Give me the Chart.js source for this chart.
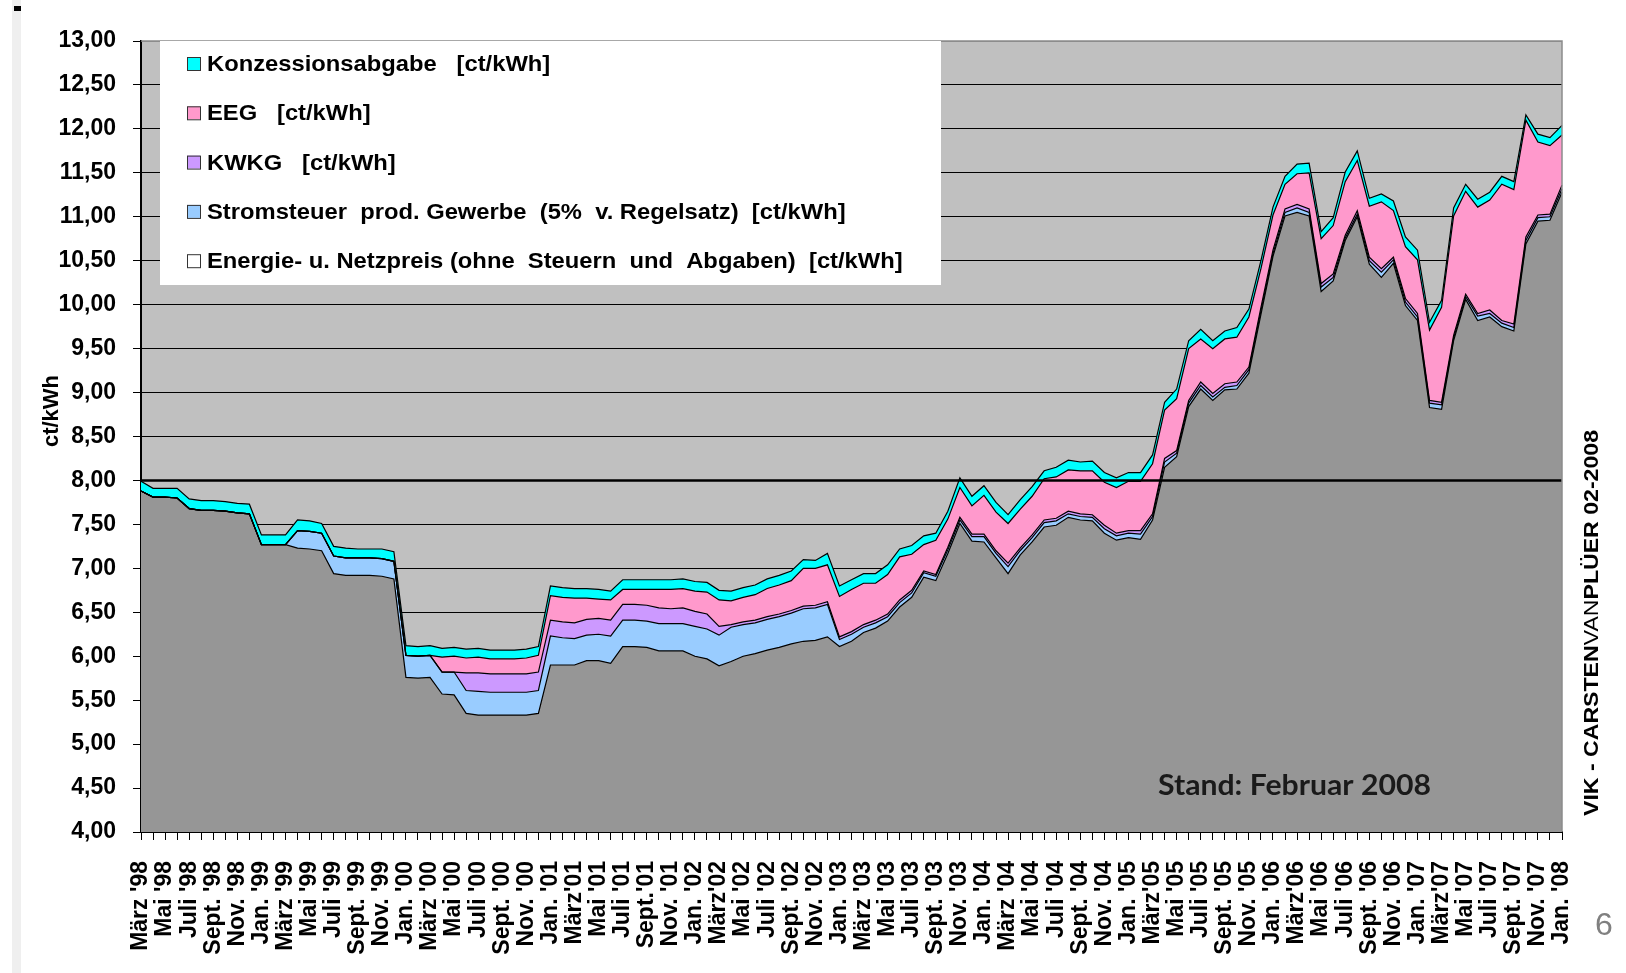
<!DOCTYPE html>
<html>
<head>
<meta charset="utf-8">
<title>Strompreis Industrie 1998-2008</title>
<script src="https://cdn.jsdelivr.net/npm/chart.js@4.4.1/dist/chart.umd.min.js"></script>
<style>
  html, body { margin: 0; padding: 0; background: #fff; }
  #wrap { position: relative; width: 1626px; height: 973px; overflow: hidden; }
  #strip { position: absolute; left: 12px; top: 0; width: 9px; height: 973px; background: #efefef; }
  #dash { position: absolute; left: 14px; top: 6px; width: 7px; height: 5px; background: #000; }
  #chart { position: absolute; left: 0; top: 0; }
</style>
</head>
<body>
<div id="wrap">
  <div id="strip"></div>
  <div id="dash"></div>
  <canvas id="chart" width="1626" height="973"></canvas>
</div>
<script>
// tick labels, one every two months (März '98 ... Jan. '08)
const tickLabels = [
  "März '98", "Mai '98", "Juli '98", "Sept. '98", "Nov. '98",
  "Jan. '99", "März '99", "Mai '99", "Juli '99", "Sept. '99", "Nov. '99",
  "Jan. '00", "März '00", "Mai '00", "Juli '00", "Sept. '00", "Nov. '00",
  "Jan. '01", "März'01", "Mai '01", "Juli '01", "Sept.'01", "Nov. '01",
  "Jan. '02", "März'02", "Mai '02", "Juli '02", "Sept. '02", "Nov. '02",
  "Jan. '03", "März '03", "Mai '03", "Juli '03", "Sept. '03", "Nov. '03",
  "Jan. '04", "März '04", "Mai '04", "Juli '04", "Sept. '04", "Nov. '04",
  "Jan. '05", "März'05", "Mai '05", "Juli '05", "Sept. '05", "Nov. '05",
  "Jan. '06", "März'06", "Mai '06", "Juli '06", "Sept. '06", "Nov. '06",
  "Jan. '07", "März'07", "Mai '07", "Juli '07", "Sept. '07", "Nov. '07",
  "Jan. '08"
];

// monthly values in ct/kWh, März 1998 .. Jan. 2008
const energie = [
  7.88, 7.81, 7.81, 7.80, 7.68, 7.66, 7.66, 7.65, 7.63, 7.62,
  7.27, 7.27, 7.27, 7.23, 7.22, 7.20, 6.94, 6.92, 6.92, 6.92, 6.91, 6.88,
  5.76, 5.75, 5.76, 5.57, 5.56, 5.35, 5.33, 5.33, 5.33, 5.33, 5.33, 5.35,
  5.90, 5.90, 5.90, 5.95, 5.95, 5.92, 6.11, 6.11, 6.10, 6.06, 6.06, 6.06,
  6.00, 5.97, 5.89, 5.94, 6.00, 6.03, 6.07, 6.10, 6.14, 6.17, 6.18, 6.22,
  6.11, 6.17, 6.27, 6.32, 6.40, 6.56, 6.67, 6.90, 6.86, 7.17, 7.51, 7.31,
  7.30, 7.12, 6.94, 7.15, 7.30, 7.47, 7.49, 7.58, 7.55, 7.54, 7.40, 7.32,
  7.35, 7.33, 7.55, 8.15, 8.27, 8.84, 9.04, 8.91, 9.03, 9.04, 9.22, 9.89,
  10.55, 11.01, 11.05, 11.01, 10.15, 10.27, 10.73, 11.00, 10.46, 10.31, 10.47, 9.99,
  9.82, 8.83, 8.81, 9.59, 10.06, 9.82, 9.86, 9.75, 9.70, 10.69, 10.95, 10.96,
  11.28
];
const stromsteuer = [
  0, 0, 0, 0, 0, 0, 0, 0, 0, 0,
  0, 0, 0, 0.20, 0.20, 0.20, 0.20, 0.20, 0.20, 0.20, 0.20, 0.20,
  0.25, 0.25, 0.25, 0.25, 0.26, 0.26, 0.27, 0.26, 0.26, 0.26, 0.26, 0.26,
  0.33, 0.31, 0.30, 0.29, 0.30, 0.31, 0.30, 0.30, 0.30, 0.31, 0.31, 0.31,
  0.34, 0.34, 0.35, 0.39, 0.36, 0.35, 0.35, 0.35, 0.35, 0.37, 0.37, 0.37,
  0.08, 0.08, 0.06, 0.06, 0.05, 0.05, 0.05, 0.05, 0.05, 0.04, 0.04, 0.05,
  0.06, 0.05, 0.08, 0.05, 0.05, 0.05, 0.05, 0.04, 0.04, 0.04, 0.05, 0.05,
  0.05, 0.06, 0.04, 0.06, 0.04, 0.04, 0.04, 0.04, 0.03, 0.04, 0.04, 0.04,
  0.03, 0.04, 0.05, 0.04, 0.05, 0.04, 0.03, 0.03, 0.04, 0.06, 0.04, 0.04,
  0.04, 0.05, 0.05, 0.03, 0.03, 0.05, 0.04, 0.04, 0.04, 0.04, 0.04, 0.04,
  0.04
];
const kwkg = [
  0, 0, 0, 0, 0, 0, 0, 0, 0, 0,
  0, 0, 0, 0, 0, 0, 0, 0, 0, 0, 0, 0,
  0, 0, 0, 0, 0, 0.20, 0.21, 0.21, 0.21, 0.21, 0.21, 0.21,
  0.18, 0.18, 0.18, 0.18, 0.18, 0.18, 0.18, 0.18, 0.18, 0.18, 0.17, 0.18,
  0.17, 0.17, 0.10, 0.03, 0.03, 0.03, 0.03, 0.03, 0.03, 0.03, 0.03, 0.03,
  0.03, 0.03, 0.03, 0.03, 0.03, 0.03, 0.03, 0.02, 0.02, 0.03, 0.03, 0.03,
  0.03, 0.03, 0.04, 0.03, 0.03, 0.03, 0.03, 0.03, 0.03, 0.03, 0.04, 0.03,
  0.03, 0.04, 0.03, 0.04, 0.03, 0.03, 0.04, 0.04, 0.04, 0.04, 0.03, 0.04,
  0.04, 0.04, 0.04, 0.04, 0.04, 0.04, 0.03, 0.04, 0.04, 0.04, 0.03, 0.04,
  0.04, 0.03, 0.03, 0.03, 0.03, 0.03, 0.04, 0.03, 0.04, 0.04, 0.03, 0.03,
  0.04
];
const eeg = [
  0, 0, 0, 0, 0, 0, 0, 0, 0, 0,
  0, 0, 0, 0, 0, 0, 0, 0, 0, 0, 0, 0,
  0, 0, 0, 0.17, 0.18, 0.17, 0.18, 0.17, 0.17, 0.17, 0.18, 0.19,
  0.28, 0.28, 0.28, 0.24, 0.22, 0.23, 0.17, 0.17, 0.18, 0.21, 0.22, 0.22,
  0.23, 0.25, 0.30, 0.27, 0.28, 0.29, 0.32, 0.33, 0.34, 0.43, 0.42, 0.42,
  0.46, 0.48, 0.47, 0.42, 0.45, 0.49, 0.41, 0.30, 0.39, 0.32, 0.34, 0.32,
  0.44, 0.44, 0.45, 0.44, 0.44, 0.47, 0.47, 0.47, 0.49, 0.50, 0.49, 0.52,
  0.56, 0.56, 0.57, 0.55, 0.59, 0.59, 0.49, 0.51, 0.51, 0.51, 0.57, 0.44,
  0.40, 0.28, 0.35, 0.41, 0.51, 0.55, 0.61, 0.57, 0.58, 0.76, 0.53, 0.59,
  0.61, 0.80, 1.08, 1.36, 1.17, 1.21, 1.25, 1.55, 1.53, 1.33, 0.83, 0.78,
  0.57
];
const konzession = [
  0.11, 0.10, 0.10, 0.11, 0.11, 0.11, 0.11, 0.11, 0.11, 0.11,
  0.11, 0.11, 0.11, 0.12, 0.12, 0.11, 0.11, 0.11, 0.10, 0.10, 0.11, 0.11,
  0.11, 0.11, 0.11, 0.10, 0.10, 0.10, 0.10, 0.10, 0.10, 0.10, 0.10, 0.10,
  0.11, 0.11, 0.11, 0.11, 0.11, 0.10, 0.11, 0.11, 0.11, 0.11, 0.11, 0.11,
  0.11, 0.11, 0.11, 0.11, 0.11, 0.11, 0.11, 0.11, 0.11, 0.10, 0.09, 0.13,
  0.12, 0.11, 0.11, 0.11, 0.11, 0.09, 0.10, 0.10, 0.08, 0.09, 0.11, 0.11,
  0.11, 0.11, 0.10, 0.11, 0.11, 0.09, 0.11, 0.11, 0.10, 0.11, 0.11, 0.11,
  0.10, 0.10, 0.10, 0.09, 0.11, 0.09, 0.11, 0.09, 0.09, 0.11, 0.09, 0.09,
  0.09, 0.09, 0.11, 0.11, 0.08, 0.09, 0.11, 0.11, 0.09, 0.09, 0.11, 0.11,
  0.11, 0.09, 0.08, 0.09, 0.08, 0.09, 0.09, 0.09, 0.09, 0.06, 0.09, 0.09,
  0.11
];

const seriesNames = [
  'Energie- u. Netzpreis (ohne  Steuern  und  Abgaben)  [ct/kWh]',
  'Stromsteuer  prod. Gewerbe  (5%  v. Regelsatz)  [ct/kWh]',
  'KWKG   [ct/kWh]',
  'EEG   [ct/kWh]',
  'Konzessionsabgabe   [ct/kWh]'
];
const refLine = 8;   // the bold 8,00 line

// one category per month, label on every second one
const months = [];
tickLabels.forEach((t, i) => { if (i > 0) months.push(''); months.push(t); });

const fills = ['#969696', '#99ccff', '#cc99ff', '#ff99cc', '#00ffff'];
const swatches = ['#ffffff', '#99ccff', '#cc99ff', '#ff99cc', '#00ffff'];
const FONT = "Arial, 'Liberation Sans', sans-serif";

const series = [energie, stromsteuer, kwkg, eeg, konzession];
const datasets = series.map((d, i) => ({
  label: seriesNames[i],
  data: d,
  backgroundColor: fills[i],
  borderColor: '#000',
  borderWidth: 1.2,
  pointRadius: 0,
  tension: 0,
  fill: i === 0 ? 'start' : '-1'
}));

function stretched(ctx, text, x, y, sx) {
  ctx.save();
  ctx.translate(x, y);
  ctx.scale(sx, 1);
  ctx.fillText(text, 0, 0);
  ctx.restore();
}

const deco = {
  id: 'deco',
  beforeDraw(chart) {
    const { ctx, chartArea: a } = chart;
    ctx.save();
    ctx.fillStyle = '#c0c0c0';
    ctx.fillRect(a.left, a.top, a.right - a.left, a.bottom - a.top);
    ctx.restore();
  },
  afterDatasetsDraw(chart) {
    const { ctx, chartArea: a } = chart;
    const y8 = chart.scales.y.getPixelForValue(refLine);
    ctx.save();
    ctx.strokeStyle = '#000';
    ctx.lineWidth = 2.5;
    ctx.beginPath();
    ctx.moveTo(a.left, y8);
    ctx.lineTo(a.right, y8);
    ctx.stroke();

    // right / top frame of plot area
    ctx.strokeStyle = '#8c8c8c';
    ctx.lineWidth = 1.5;
    ctx.beginPath();
    ctx.moveTo(a.left, a.top);
    ctx.lineTo(a.right, a.top);
    ctx.lineTo(a.right, a.bottom);
    ctx.stroke();

    // legend box inside plot, reversed order like the original
    ctx.fillStyle = '#fff';
    ctx.fillRect(160, a.top, 781, 244);
    ctx.font = 'bold 22px ' + FONT;
    ctx.textBaseline = 'middle';
    const order = [4, 3, 2, 1, 0];
    order.forEach((di, row) => {
      const cy = 64 + row * 49.3;
      ctx.fillStyle = swatches[di];
      ctx.fillRect(187, cy - 7, 13, 13);
      ctx.strokeStyle = '#333';
      ctx.lineWidth = 1;
      ctx.strokeRect(187.5, cy - 6.5, 13, 13);
      ctx.fillStyle = '#000';
      stretched(ctx, chart.data.datasets[di].label, 207, cy + 1, 1.08);
    });
    ctx.restore();
  },
  afterDraw(chart) {
    const { ctx } = chart;
    ctx.save();
    // y axis title
    ctx.fillStyle = '#000';
    ctx.font = 'bold 22px ' + FONT;
    ctx.textAlign = 'center';
    ctx.textBaseline = 'middle';
    ctx.translate(52, 411);
    ctx.rotate(-Math.PI / 2);
    ctx.fillText('ct/kWh', 0, 0);
    ctx.restore();

    // Stand
    ctx.save();
    ctx.fillStyle = '#1a1a1a';
    ctx.font = "bold 28px Lato, 'Open Sans', sans-serif";
    ctx.textBaseline = 'middle';
    const st = 'Stand: Februar 2008';
    const w = ctx.measureText(st).width;
    stretched(ctx, st, 1158, 786, 273 / w);
    ctx.restore();

    // vertical credit on the right
    ctx.save();
    ctx.translate(1592, 816);
    ctx.rotate(-Math.PI / 2);
    ctx.textBaseline = 'middle';
    ctx.fillStyle = '#000';
    const parts = [['VIK - CARSTEN', 'bold'], ['VAN', 'normal'], ['PLÜER 02-2008', 'bold']];
    let total = 0;
    parts.forEach(p => { ctx.font = p[1] + ' 21px ' + FONT; total += ctx.measureText(p[0]).width; });
    const k = 386 / total;
    ctx.scale(k, 1);
    let x = 0;
    parts.forEach(p => {
      ctx.font = p[1] + ' 21px ' + FONT;
      ctx.fillText(p[0], x, 0);
      x += ctx.measureText(p[0]).width;
    });
    ctx.restore();

    // page number
    ctx.save();
    ctx.fillStyle = '#808080';
    ctx.font = '32px ' + FONT;
    ctx.textAlign = 'center';
    ctx.textBaseline = 'middle';
    ctx.fillText('6', 1604, 926);
    ctx.restore();
  }
};

Chart.defaults.font.family = FONT;
Chart.defaults.color = '#000';

new Chart(document.getElementById('chart'), {
  type: 'line',
  data: { labels: months, datasets: datasets },
  options: {
    responsive: false,
    animation: false,
    events: [],
    devicePixelRatio: 1,
    layout: { padding: { top: 41, right: 64, left: 0, bottom: 0 } },
    plugins: {
      legend: { display: false },
      tooltip: { enabled: false },
      filler: { drawTime: 'beforeDatasetsDraw' }
    },
    scales: {
      x: {
        offset: false,
        afterFit: s => { s.height = 141; },
        grid: { drawOnChartArea: false, tickLength: 8, color: '#000', lineWidth: 1 },
        border: { color: '#000', width: 2 },
        ticks: {
          autoSkip: false,
          maxRotation: 90,
          minRotation: 90,
          padding: 21,
          font: { size: 23, weight: 'bold' }
        }
      },
      y: {
        stacked: true,
        min: 4,
        max: 13,
        afterFit: s => { s.width = 141; },
        grid: {
          color: c => (c.tick && c.tick.value === 13 ? '#8c8c8c' : '#000'),
          tickColor: '#000',
          tickLength: 8,
          lineWidth: 1
        },
        border: { color: '#000', width: 2 },
        ticks: {
          stepSize: 0.5,
          padding: 17,
          font: { size: 23, weight: 'bold' },
          callback: v => v.toFixed(2).replace('.', ',')
        }
      }
    }
  },
  plugins: [deco]
});
</script>
</body>
</html>
